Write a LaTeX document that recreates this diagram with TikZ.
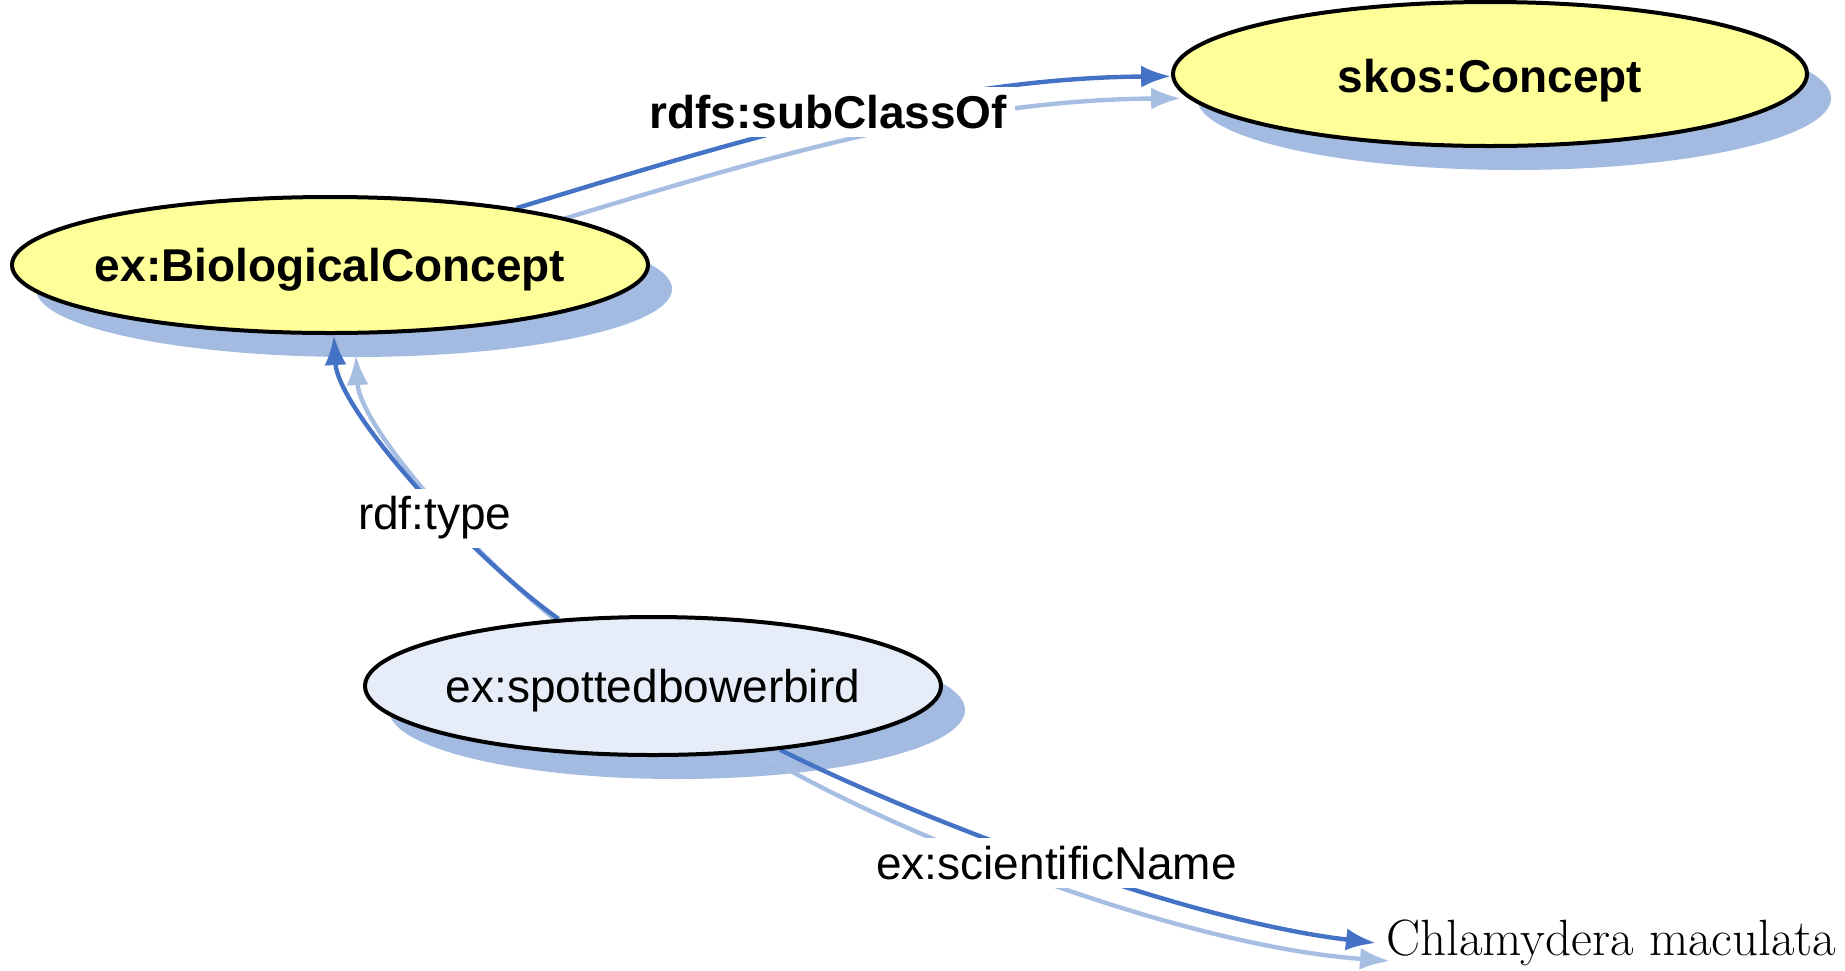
\documentclass[tikz,border=0pt]{standalone}
\usepackage{fontspec}
\newfontfamily\lsans{Liberation Sans}
\usetikzlibrary{arrows.meta,shapes.geometric}
\definecolor{conceptyellow}{HTML}{FFFF99}
\definecolor{instfill}{HTML}{E6ECF8}
\definecolor{shadowblue}{HTML}{A3BBE0}
\definecolor{edgedark}{HTML}{4472C4}
\definecolor{edgelight}{HTML}{A7BEE3}
\pgfdeclarelayer{shadowlayer}
\pgfdeclarelayer{edgelayer}
\pgfsetlayers{shadowlayer,edgelayer,main}
\begin{document}
\begin{tikzpicture}[x=0.5pt,y=-0.5pt,
  bigtext/.style={font=\lsans\fontsize{23}{27}\selectfont},
  classnode/.style={ellipse, draw=black, line width=2pt, fill=conceptyellow, inner sep=0pt, bigtext},
  instnode/.style={ellipse, draw=black, line width=2pt, fill=instfill, inner sep=0pt, bigtext},
  darkedge/.style={draw=edgedark, line width=2.2pt, -{Latex[length=15pt,width=11pt]}},
  lightedge/.style={draw=edgelight, line width=2.2pt, -{Latex[length=15pt,width=11pt]}},
  edgelabel/.style={fill=white, inner sep=4pt, bigtext},
  shadowfill/.style={fill=shadowblue}
]
\useasboundingbox (0,0) rectangle (1845,970);

% nodes
\node[classnode, minimum width=318pt, minimum height=68pt] (bio) at (330,265)
  {\makebox[0pt]{\raisebox{-8.4pt}[0pt][0pt]{\bfseries ex:BiologicalConcept}}};
\node[classnode, minimum width=317pt, minimum height=72pt] (skos) at (1490,74)
  {\makebox[0pt]{\raisebox{-9pt}[0pt][0pt]{\bfseries skos:Concept}}};
\node[instnode, minimum width=288pt, minimum height=69pt] (bird) at (653,686)
  {\makebox[0pt]{\raisebox{-8.3pt}[0pt][0pt]{ex:spottedbowerbird}}};
\node[anchor=west, inner sep=5pt, font=\fontsize{25.5}{29}\selectfont] (chl) at (1376,943)
  {Chlamydera maculata};

% shadows
\begin{pgfonlayer}{shadowlayer}
\fill[shadowfill] ([shift={(24,24)}]bio.center) ellipse [x radius=159pt, y radius=34pt];
\fill[shadowfill] ([shift={(24,24)}]skos.center) ellipse [x radius=158.5pt, y radius=36pt];
\fill[shadowfill] ([shift={(24,24)}]bird.center) ellipse [x radius=144pt, y radius=34.5pt];
\end{pgfonlayer}

% edges
\begin{pgfonlayer}{edgelayer}
\draw[lightedge, transform canvas={shift={(10,22)}}] (bio) .. controls (740,140) and (940,78) .. (skos);
\draw[darkedge] (bio) .. controls (740,140) and (940,78) .. (skos)
  node[edgelabel, pos=0.48, yshift=4pt, font=\lsans\bfseries\fontsize{23}{27}\selectfont] (lsub) {rdfs:subClassOf};

\draw[lightedge, transform canvas={shift={(22,20)}}] (bird) .. controls (470,556) and (338,410) .. (bio);
\draw[darkedge] (bird) .. controls (470,556) and (338,410) .. (bio)
  node[edgelabel, pos=0.385, xshift=-6pt] (ltype) {rdf:type};

\draw[lightedge] (bird) .. controls (875,825) and (1170,945) .. ([shift={(14,18)}]chl.west);
\draw[darkedge] (bird) .. controls (910,815) and (1180,920) .. (chl.west)
  node[edgelabel, pos=0.505] (lsci) {ex:scientificName};
\end{pgfonlayer}
\end{tikzpicture}
\end{document}
